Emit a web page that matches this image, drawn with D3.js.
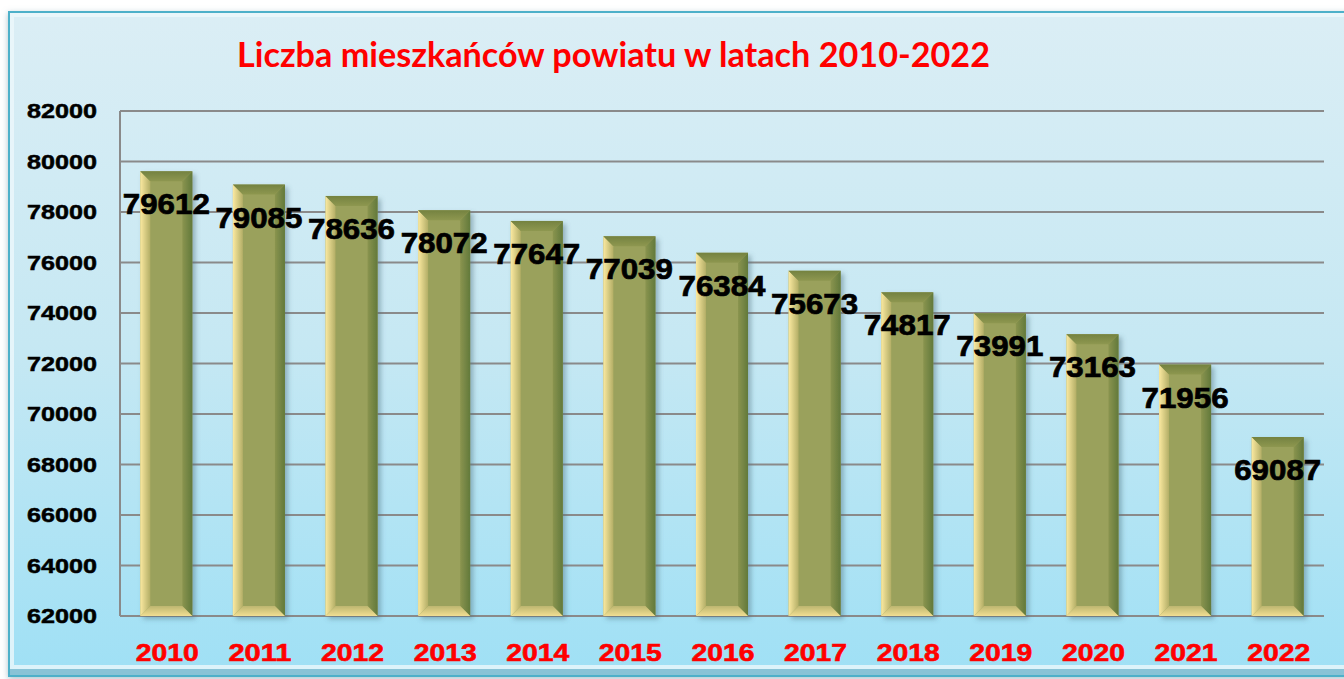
<!DOCTYPE html>
<html>
<head>
<meta charset="utf-8">
<script src="https://cdn.jsdelivr.net/npm/d3@7"></script>
<style>
  html, body { margin: 0; padding: 0; background: #fff; }
  svg { display: block; }
</style>
</head>
<body>
<div id="chart"></div>
<script>
// dane
const lata = ['2010', '2011', '2012', '2013', '2014', '2015', '2016', '2017', '2018', '2019', '2020', '2021', '2022'];
const mieszkancy = [79612, 79085, 78636, 78072, 77647, 77039, 76384, 75673, 74817, 73991, 73163, 71956, 69087];
const osY = [62000, 64000, 66000, 68000, 70000, 72000, 74000, 76000, 78000, 80000, 82000];
const tytul = 'Liczba mieszkańców powiatu w latach 2010-2022';

const width = 1344, height = 679;
const plotLeft = 120, plotRight = 1324, plotTop = 111, plotBottom = 616;

const svg = d3.select('#chart').append('svg')
    .attr('width', width)
    .attr('height', height);

const defs = svg.append('defs');

// tło panelu
const tlo = defs.append('linearGradient').attr('id', 'tlo')
    .attr('x1', 0).attr('y1', 0).attr('x2', 0).attr('y2', 1);
tlo.append('stop').attr('offset', '0%').attr('stop-color', '#dbeef5');
tlo.append('stop').attr('offset', '50%').attr('stop-color', '#c6e8f3');
tlo.append('stop').attr('offset', '100%').attr('stop-color', '#9fe0f5');

// gradienty słupka
const lewy = defs.append('linearGradient').attr('id', 'lewy')
    .attr('x1', 0).attr('y1', 0).attr('x2', 1).attr('y2', 0);
lewy.append('stop').attr('offset', '0%').attr('stop-color', '#fbe9a0');
lewy.append('stop').attr('offset', '100%').attr('stop-color', '#b3ae66');

const prawy = defs.append('linearGradient').attr('id', 'prawy')
    .attr('x1', 0).attr('y1', 0).attr('x2', 1).attr('y2', 0);
prawy.append('stop').attr('offset', '0%').attr('stop-color', '#8a944f');
prawy.append('stop').attr('offset', '100%').attr('stop-color', '#62793b');

const gora = defs.append('linearGradient').attr('id', 'gora')
    .attr('x1', 0).attr('y1', 0).attr('x2', 0).attr('y2', 1);
gora.append('stop').attr('offset', '0%').attr('stop-color', '#748240');
gora.append('stop').attr('offset', '100%').attr('stop-color', '#8e9750');

const dol = defs.append('linearGradient').attr('id', 'dol')
    .attr('x1', 0).attr('y1', 0).attr('x2', 0).attr('y2', 1);
dol.append('stop').attr('offset', '0%').attr('stop-color', '#bdb670');
dol.append('stop').attr('offset', '100%').attr('stop-color', '#f1de92');

const cien = defs.append('filter').attr('id', 'cien')
    .attr('x', '-20%').attr('y', '-10%').attr('width', '150%').attr('height', '130%');
cien.append('feDropShadow')
    .attr('dx', 3).attr('dy', 3).attr('stdDeviation', 2.5)
    .attr('flood-color', '#4a6a78').attr('flood-opacity', 0.45);

const cienPanel = defs.append('filter').attr('id', 'cienPanel')
    .attr('x', '-5%').attr('y', '-5%').attr('width', '110%').attr('height', '110%');
cienPanel.append('feDropShadow')
    .attr('dx', 0).attr('dy', 2).attr('stdDeviation', 3)
    .attr('flood-color', '#7a9aa8').attr('flood-opacity', 0.6);

// panel
svg.append('rect')
    .attr('x', 9).attr('y', 12)
    .attr('width', width + 10).attr('height', 664)
    .attr('fill', 'url(#tlo)')
    .attr('stroke', '#4db0c9')
    .attr('stroke-width', 2)
    .attr('filter', 'url(#cienPanel)');

// wewnętrzna ramka (fazka)
svg.append('rect')
    .attr('x', 12).attr('y', 15)
    .attr('width', width).attr('height', 652)
    .attr('fill', 'none')
    .attr('stroke', '#ecf8fb')
    .attr('stroke-opacity', 0.8)
    .attr('stroke-width', 4);
svg.append('line')
    .attr('x1', 10).attr('x2', width)
    .attr('y1', 672).attr('y2', 672)
    .attr('stroke', '#7fb7c9').attr('stroke-width', 6).attr('stroke-opacity', 0.7);

// skale
const x = d3.scaleBand()
    .domain(lata)
    .range([plotLeft, plotRight])
    .paddingInner(0.438)
    .paddingOuter(0.219);

const y = d3.scaleLinear()
    .domain([62000, 82000])
    .range([plotBottom, plotTop]);

// siatka
svg.append('g')
    .selectAll('line')
    .data(osY)
    .enter().append('line')
    .attr('x1', plotLeft)
    .attr('x2', plotRight)
    .attr('y1', d => y(d))
    .attr('y2', d => y(d))
    .attr('stroke', '#8a8a8a')
    .attr('stroke-width', 2);

svg.append('line')
    .attr('x1', plotLeft).attr('x2', plotLeft)
    .attr('y1', plotTop).attr('y2', plotBottom)
    .attr('stroke', '#8a8a8a')
    .attr('stroke-width', 2);

// etykiety osi Y
svg.append('g')
    .selectAll('text')
    .data(osY)
    .enter().append('text')
    .attr('x', 62)
    .attr('y', d => y(d) + 7)
    .attr('text-anchor', 'middle')
    .attr('textLength', 70)
    .attr('lengthAdjust', 'spacingAndGlyphs')
    .style('font-family', '"Liberation Sans", Arial, sans-serif')
    .style('font-weight', 'bold')
    .style('font-size', '21px')
    .attr('fill', '#000')
    .attr('stroke', '#000')
    .attr('stroke-width', 0.5)
    .text(d => d);

// słupki
const b = 10;
const daneSlupkow = lata.map((rok, i) => ({ rok, wartosc: mieszkancy[i] }));

const slupki = svg.append('g')
    .selectAll('.slupek')
    .data(daneSlupkow)
    .enter().append('g')
    .attr('class', 'slupek')
    .attr('filter', 'url(#cien)');

slupki.append('rect')
    .attr('x', d => x(d.rok))
    .attr('y', d => y(d.wartosc))
    .attr('width', x.bandwidth())
    .attr('height', d => plotBottom - y(d.wartosc))
    .attr('fill', '#9aa15b');

function trapez(d, bok) {
    const x0 = x(d.rok), x1 = x0 + x.bandwidth();
    const y0 = y(d.wartosc), y1 = plotBottom;
    if (bok === 'lewy') return `M${x0},${y0} L${x0 + b},${y0 + b} L${x0 + b},${y1 - b} L${x0},${y1} Z`;
    if (bok === 'prawy') return `M${x1},${y0} L${x1 - b},${y0 + b} L${x1 - b},${y1 - b} L${x1},${y1} Z`;
    if (bok === 'gora') return `M${x0},${y0} L${x1},${y0} L${x1 - b},${y0 + b} L${x0 + b},${y0 + b} Z`;
    return `M${x0},${y1} L${x1},${y1} L${x1 - b},${y1 - b} L${x0 + b},${y1 - b} Z`;
}

slupki.append('path').attr('d', d => trapez(d, 'lewy')).attr('fill', 'url(#lewy)');
slupki.append('path').attr('d', d => trapez(d, 'prawy')).attr('fill', 'url(#prawy)');
slupki.append('path').attr('d', d => trapez(d, 'gora')).attr('fill', 'url(#gora)');
slupki.append('path').attr('d', d => trapez(d, 'dol')).attr('fill', 'url(#dol)');

// etykiety wartości
svg.append('g')
    .selectAll('text')
    .data(daneSlupkow)
    .enter().append('text')
    .attr('x', d => x(d.rok) + x.bandwidth() / 2)
    .attr('y', d => y(d.wartosc) + 43)
    .attr('text-anchor', 'middle')
    .attr('textLength', 87)
    .attr('lengthAdjust', 'spacingAndGlyphs')
    .style('font-family', '"Liberation Sans", Arial, sans-serif')
    .style('font-weight', 'bold')
    .style('font-size', '29px')
    .attr('fill', '#000')
    .attr('stroke', '#000')
    .attr('stroke-width', 0.7)
    .text(d => d.wartosc);

// etykiety lat
svg.append('g')
    .selectAll('text')
    .data(lata)
    .enter().append('text')
    .attr('x', d => x(d) + x.bandwidth() / 2 + 1)
    .attr('y', 661)
    .attr('text-anchor', 'middle')
    .attr('textLength', 63)
    .attr('lengthAdjust', 'spacingAndGlyphs')
    .style('font-family', '"Liberation Sans", Arial, sans-serif')
    .style('font-weight', 'bold')
    .style('font-size', '24px')
    .attr('fill', '#ff0000')
    .attr('stroke', '#ff0000')
    .attr('stroke-width', 0.6)
    .text(d => d);

// tytuł
svg.append('text')
    .attr('x', 237)
    .attr('y', 67)
    .attr('textLength', 753)
    .attr('lengthAdjust', 'spacingAndGlyphs')
    .style('font-family', 'Lato, "Open Sans", sans-serif')
    .style('font-weight', 'bold')
    .style('font-size', '34px')
    .attr('fill', '#ff0000')
    .text(tytul);
</script>
</body>
</html>
